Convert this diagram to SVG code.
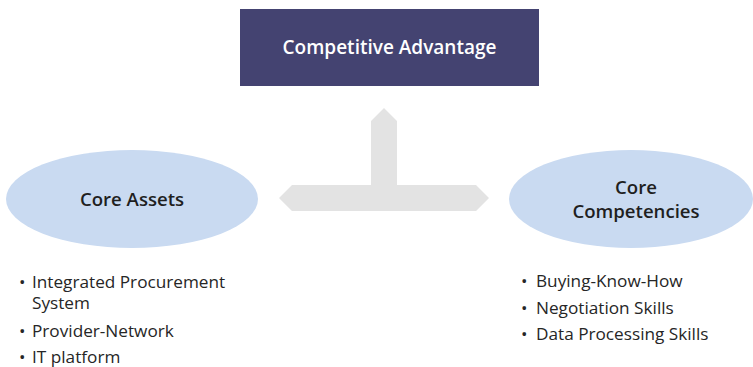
<svg xmlns="http://www.w3.org/2000/svg" width="753" height="367" viewBox="0 0 753 367">
  <style>
    .title { font-family: "Open Sans", "Noto Sans", sans-serif; font-weight: 600; font-size: 19px; fill: #ffffff; }
    .label { font-family: "Open Sans", "Noto Sans", sans-serif; font-weight: 600; font-size: 18.6px; fill: #1f1f1f; }
    .item { font-family: "Open Sans", "Noto Sans", sans-serif; font-size: 17.2px; fill: #262626; }
    .oval { fill: #c9daf1; }
    .arrow { fill: #e3e3e3; }
  </style>
  <rect width="753" height="367" fill="#ffffff"/>
  <g id="connectors">
    <polygon class="arrow" points="371,185 371,121 384,108 397,121 397,185 476,185 489,198 476,211 292,211 279,198 292,185"/>
  </g>
  <g id="competitive-advantage">
    <rect x="240" y="9" width="299" height="77" fill="#444371"/>
    <text class="title" x="389.5" y="54" text-anchor="middle">Competitive Advantage</text>
  </g>
  <g id="core-assets">
    <ellipse class="oval" cx="132" cy="199" rx="126" ry="49"/>
    <text class="label" x="132" y="206" text-anchor="middle">Core Assets</text>
    <text class="item" x="19" y="288">•</text>
    <text class="item" x="32" y="288">Integrated Procurement</text>
    <text class="item" x="32" y="309">System</text>
    <text class="item" x="19" y="337">•</text>
    <text class="item" x="32" y="337">Provider-Network</text>
    <text class="item" x="19" y="363">•</text>
    <text class="item" x="32" y="363">IT platform</text>
  </g>
  <g id="core-competencies">
    <ellipse class="oval" cx="631" cy="199" rx="122" ry="49"/>
    <text class="label" x="636" y="194" text-anchor="middle">Core</text>
    <text class="label" x="636" y="218" text-anchor="middle">Competencies</text>
    <text class="item" x="521" y="287">•</text>
    <text class="item" x="536" y="287">Buying-Know-How</text>
    <text class="item" x="521" y="314">•</text>
    <text class="item" x="536" y="314">Negotiation Skills</text>
    <text class="item" x="521" y="340">•</text>
    <text class="item" x="536" y="340">Data Processing Skills</text>
  </g>
</svg>
